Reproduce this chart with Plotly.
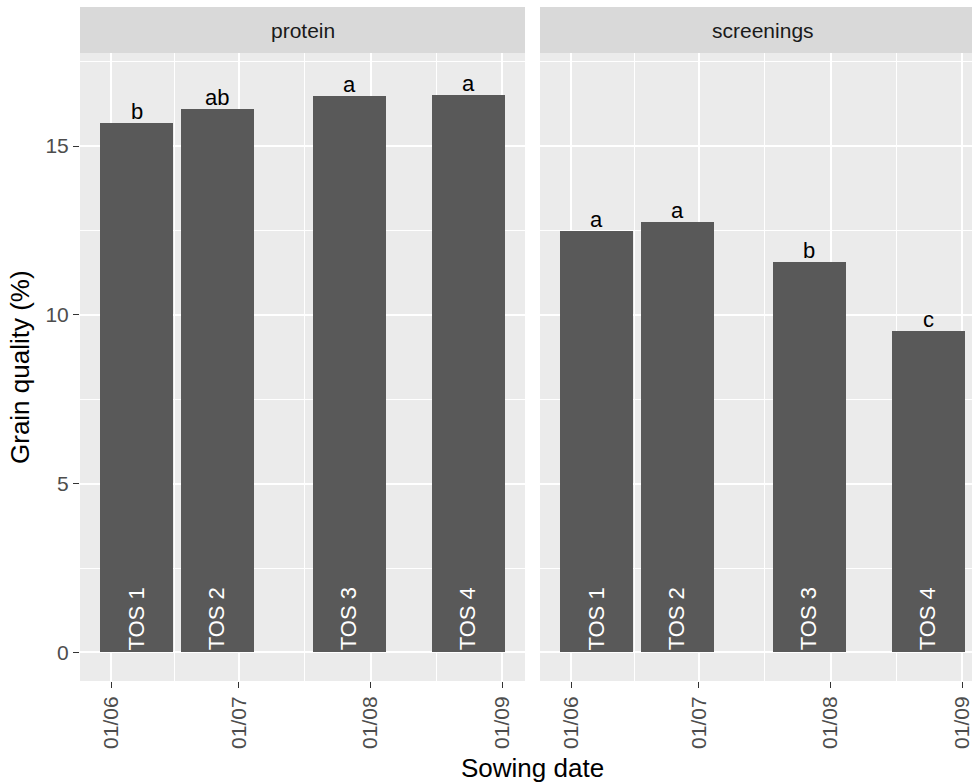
import datetime as dt
import plotly.graph_objects as go

# ---- data ----
sowing_dates = ["2023-06-07", "2023-06-26", "2023-07-27", "2023-08-24"]
tos_labels = ["TOS 1", "TOS 2", "TOS 3", "TOS 4"]
protein = [15.69, 16.09, 16.47, 16.51]
screenings = [12.48, 12.75, 11.56, 9.51]
protein_letters = ["b", "ab", "a", "a"]
screenings_letters = ["a", "a", "b", "c"]
facet_names = ["protein", "screenings"]
tick_dates = ["2023-06-01", "2023-07-01", "2023-08-01", "2023-09-01"]
tick_text = ["01/06", "01/07", "01/08", "01/09"]
minor_dates = ["2023-06-16", "2023-07-16 12:00", "2023-08-16 12:00"]
y_ticks = [0, 5, 10, 15]
y_minor = [2.5, 7.5, 12.5, 17.5]

# ---- styling ----
FONT = "Liberation Sans, Arial, sans-serif"
BAR = "#595959"
PANEL_BG = "#ebebeb"
STRIP_BG = "#d9d9d9"
TICK_COL = "#4d4d4d"

W, H = 972, 784
ML, MR, MT, MB = 80, 0, 7, 103
plot_w = W - ML - MR
plot_h = H - MT - MB
strip_px = 46
panel_top = 1 - strip_px / plot_h
dom1 = [0, 445 / plot_w]
dom2 = [460 / plot_w, 1]

# bar width = 0.9 * smallest gap between sowing dates (in ms)
d = [dt.datetime.fromisoformat(s) for s in sowing_dates]
gap = min((d[i + 1] - d[i]) for i in range(len(d) - 1))
width = gap * 0.9
width_ms = width.total_seconds() * 1000

lo = d[0] - width / 2
hi = d[-1] + width / 2
span = hi - lo
x_start = lo - span * 0.05
x_end = hi + span * 0.05
x_end2 = x_start + (x_end - x_start) * ((dom2[1] - dom2[0]) / (dom1[1] - dom1[0]))

y_top = max(protein + screenings) + 0.4
y_range = [-0.05 * y_top, 1.05 * y_top]

fig = go.Figure()
series = [protein, screenings]
letters = [protein_letters, screenings_letters]
annotations = []
shapes = []

for i, (vals, lets) in enumerate(zip(series, letters)):
    xa = "x" if i == 0 else "x2"
    ya = "y" if i == 0 else "y2"
    fig.add_trace(go.Bar(
        x=sowing_dates, y=vals, width=[width_ms] * len(vals),
        marker=dict(color=BAR, line=dict(width=0)),
        xaxis=xa, yaxis=ya, showlegend=False, hoverinfo="skip",
    ))
    for xd, v, lt, tl in zip(sowing_dates, vals, lets, tos_labels):
        annotations.append(dict(
            x=xd, y=v, xref=xa, yref=ya, text=lt, showarrow=False,
            xanchor="center", yanchor="bottom", yshift=-3,
            font=dict(family=FONT, size=22, color="black"),
        ))
        annotations.append(dict(
            x=xd, y=0, xref=xa, yref=ya, text=tl, showarrow=False,
            textangle=-90, xanchor="center", yanchor="bottom", yshift=0,
            font=dict(family=FONT, size=22, color="white"),
        ))
    dom = dom1 if i == 0 else dom2
    shapes.append(dict(
        type="rect", xref="paper", yref="paper",
        x0=dom[0], x1=dom[1], y0=panel_top, y1=1,
        fillcolor=STRIP_BG, line=dict(width=0), layer="below",
    ))
    # strip label centred on the full facet width
    annotations.append(dict(
        x=dom[0] + (dom1[1] - dom1[0]) / 2,
        y=(panel_top + 1) / 2, xref="paper", yref="paper",
        text=facet_names[i], showarrow=False, xanchor="center", yanchor="middle",
        font=dict(family=FONT, size=21, color="#1a1a1a"),
    ))

# axis titles
annotations.append(dict(
    x=(20 - ML) / plot_w, y=panel_top / 2, xref="paper", yref="paper",
    text="Grain quality (%)", showarrow=False, textangle=-90,
    xanchor="center", yanchor="middle",
    font=dict(family=FONT, size=26, color="black"),
))
annotations.append(dict(
    x=(532 - ML) / plot_w, y=-(768 - (H - MB)) / plot_h, xref="paper", yref="paper",
    text="Sowing date", showarrow=False, xanchor="center", yanchor="middle",
    font=dict(family=FONT, size=26, color="black"),
))

xaxis_common = dict(
    type="date", tickmode="array", tickvals=tick_dates, ticktext=tick_text,
    tickangle=-90, ticks="outside", ticklen=6, tickwidth=1.4, tickcolor="#333333",
    tickfont=dict(family=FONT, size=21, color=TICK_COL),
    ticklabeloverflow="allow",
    showgrid=True, gridcolor="white", gridwidth=1.5, zeroline=False,
    showline=False,
    minor=dict(tickmode="array", tickvals=minor_dates, showgrid=True,
               gridcolor="white", gridwidth=0.7, ticks=""),
)
yaxis_common = dict(
    range=y_range, tickmode="array", tickvals=y_ticks,
    showgrid=True, gridcolor="white", gridwidth=1.5, zeroline=False,
    showline=False,
    minor=dict(tickmode="array", tickvals=y_minor, showgrid=True,
               gridcolor="white", gridwidth=0.7, ticks=""),
    domain=[0, panel_top],
)

fig.update_layout(
    width=W, height=H,
    margin=dict(l=ML, r=MR, t=MT, b=MB, pad=0),
    paper_bgcolor="white", plot_bgcolor=PANEL_BG,
    bargap=0,
    xaxis=dict(xaxis_common, domain=dom1, anchor="y",
               range=[x_start.isoformat(), x_end.isoformat()]),
    xaxis2=dict(xaxis_common, domain=dom2, anchor="y2",
                range=[x_start.isoformat(), x_end2.isoformat()]),
    yaxis=dict(yaxis_common, anchor="x", ticks="outside", ticklen=6,
               tickwidth=1.4, tickcolor="#333333",
               tickfont=dict(family=FONT, size=21, color=TICK_COL)),
    yaxis2=dict(yaxis_common, anchor="x2", matches="y", showticklabels=False,
                ticks=""),
    annotations=annotations,
    shapes=shapes,
)

fig.write_html("out.html")
